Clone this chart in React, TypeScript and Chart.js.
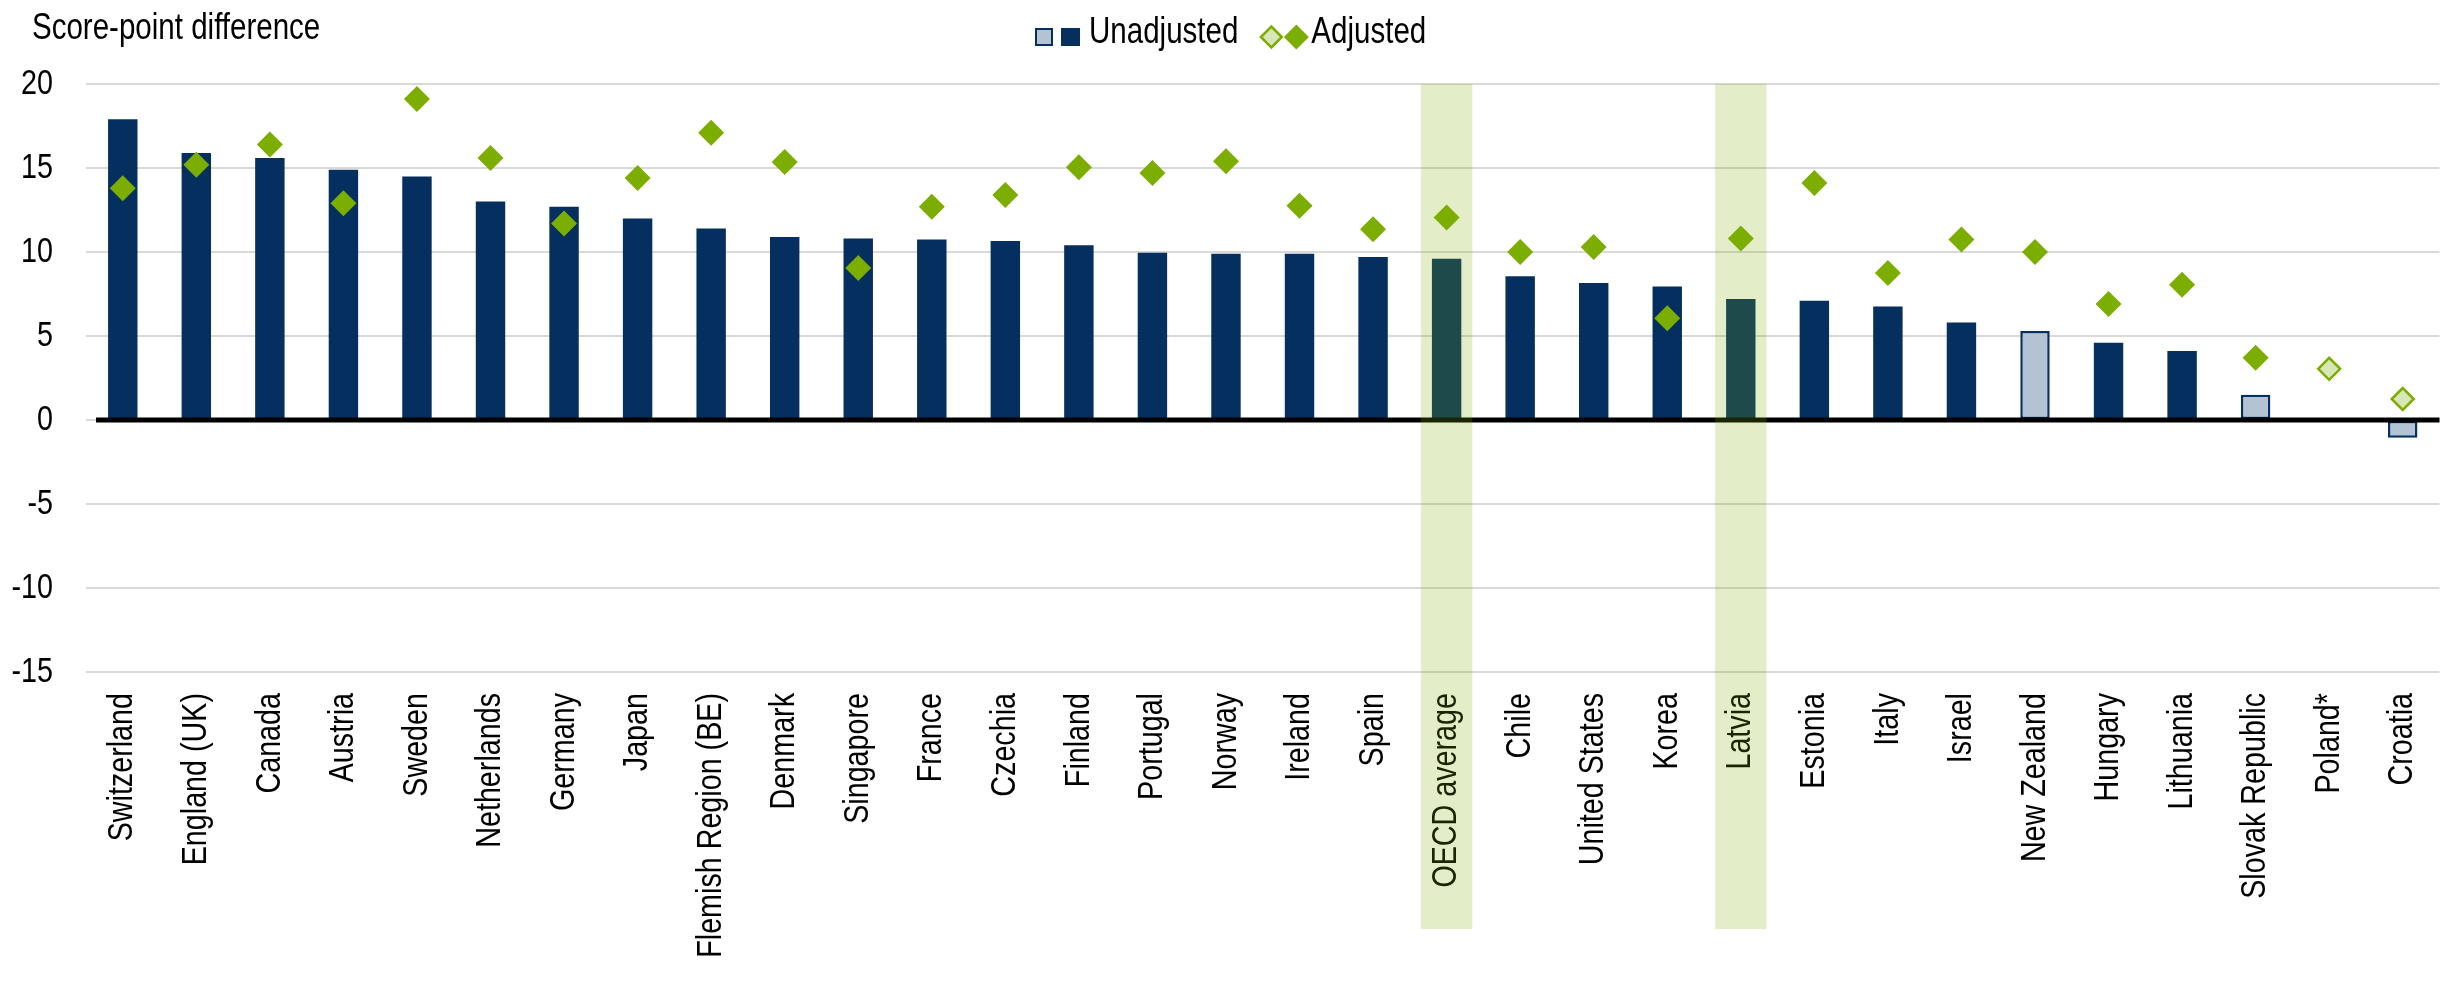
import React, { useEffect, useRef } from 'react';
import { Chart, registerables } from 'chart.js';

Chart.register(...registerables);

const categories = [
  'Switzerland', 'England (UK)', 'Canada', 'Austria', 'Sweden', 'Netherlands', 'Germany', 'Japan',
  'Flemish Region (BE)', 'Denmark', 'Singapore', 'France', 'Czechia', 'Finland', 'Portugal', 'Norway',
  'Ireland', 'Spain', 'OECD average', 'Chile', 'United States', 'Korea', 'Latvia', 'Estonia', 'Italy',
  'Israel', 'New Zealand', 'Hungary', 'Lithuania', 'Slovak Republic', 'Poland*', 'Croatia',
];

const unadjusted = [
  17.9, 15.9, 15.6, 14.9, 14.5, 13.0, 12.7, 12.0,
  11.4, 10.9, 10.8, 10.75, 10.65, 10.4, 9.95, 9.9,
  9.9, 9.7, 9.6, 8.55, 8.15, 7.95, 7.2, 7.1, 6.75,
  5.8, 5.3, 4.6, 4.1, 1.5, null, -1.05,
];

const adjusted = [
  13.8, 15.2, 16.4, 12.9, 19.1, 15.6, 11.7, 14.4,
  17.1, 15.35, 9.05, 12.7, 13.4, 15.05, 14.7, 15.4,
  12.75, 11.35, 12.05, 10.0, 10.3, 6.05, 10.8, 14.1, 8.75,
  10.75, 10.0, 6.9, 8.05, 3.7, 3.05, 1.25,
];

const unadjustedSignificant = [
  true, true, true, true, true, true, true, true,
  true, true, true, true, true, true, true, true,
  true, true, true, true, true, true, true, true, true,
  true, false, true, true, false, false, false,
];

const adjustedSignificant = [
  true, true, true, true, true, true, true, true,
  true, true, true, true, true, true, true, true,
  true, true, true, true, true, true, true, true, true,
  true, true, true, true, true, false, false,
];

const highlighted = ['OECD average', 'Latvia'];
const yMin = -15;
const yMax = 20;
const yStep = 5;
const yTitle = 'Score-point difference';
const legendLabels = ['Unadjusted', 'Adjusted'];

const NAVY = '#042f5f';
const NAVY_LIGHT = '#b4c3d4';
const GREEN = '#7bae00';
const GREEN_LIGHT = '#d8e6b8';
const BAND = 'rgba(122,176,0,0.21)';
const FONT = "'Liberation Sans Narrow', 'Arial Narrow', 'Liberation Sans', Arial, sans-serif";
const NARROW = 0.82;

const W = 2453;
const H = 981;
const PLOT_RIGHT = W - 1;

function diamond(ctx: CanvasRenderingContext2D, cx: number, cy: number, r: number) {
  ctx.beginPath();
  ctx.moveTo(cx, cy - r);
  ctx.lineTo(cx + r, cy);
  ctx.lineTo(cx, cy + r);
  ctx.lineTo(cx - r, cy);
  ctx.closePath();
}

const decorPlugin = {
  id: 'decor',
  afterDatasetsDraw(chart: any) {
    const { ctx, chartArea, scales } = chart;
    const y0 = scales.y.getPixelForValue(0);
    ctx.save();
    ctx.strokeStyle = '#000';
    ctx.lineWidth = 5;
    ctx.beginPath();
    ctx.moveTo(chartArea.left + 10, y0);
    ctx.lineTo(chartArea.right, y0);
    ctx.stroke();
    ctx.restore();
  },
  afterDraw(chart: any) {
    const { ctx, chartArea, scales } = chart;
    const xs = scales.x;
    const step = xs.getPixelForValue(1) - xs.getPixelForValue(0);
    const bw = step * 0.7;
    ctx.save();
    ctx.fillStyle = BAND;
    highlighted.forEach((name) => {
      const i = categories.indexOf(name);
      const cx = xs.getPixelForValue(i);
      ctx.fillRect(cx - bw / 2, chartArea.top, bw, chart.height - 52 - chartArea.top);
    });

    // title
    ctx.fillStyle = '#000';
    ctx.font = `36px ${FONT}`;
    ctx.textBaseline = 'alphabetic';
    ctx.textAlign = 'left';
    ctx.fillText(yTitle, 32, 39);

    // legend
    let x = 1035;
    const top = 28;
    const sz = 18;
    ctx.fillStyle = NAVY_LIGHT;
    ctx.fillRect(x, top, sz, sz);
    ctx.strokeStyle = NAVY;
    ctx.lineWidth = 2;
    ctx.strokeRect(x + 1, top + 1, sz - 2, sz - 2);
    x += sz + 8;
    ctx.fillStyle = NAVY;
    ctx.fillRect(x, top, sz + 1, sz);
    x += sz + 10;
    ctx.fillStyle = '#000';
    ctx.font = `36px ${FONT}`;
    ctx.fillText(legendLabels[0], x, 43);
    x += ctx.measureText(legendLabels[0]).width * NARROW + 22;
    const cy = top + sz / 2;
    diamond(ctx, x + 11, cy, 10.5);
    ctx.fillStyle = GREEN_LIGHT;
    ctx.fill();
    ctx.strokeStyle = GREEN;
    ctx.lineWidth = 2.5;
    ctx.stroke();
    diamond(ctx, x + 36, cy, 12.5);
    ctx.fillStyle = GREEN;
    ctx.fill();
    x += 51;
    ctx.fillStyle = '#000';
    ctx.fillText(legendLabels[1], x, 43);
    ctx.restore();
  },
};

export default function App() {
  const ref = useRef<HTMLCanvasElement | null>(null);

  useEffect(() => {
    if (!ref.current) return;
    const c2d = ref.current.getContext('2d') as any;
    if (c2d && !c2d.__narrow) {
      const orig = c2d.fillText.bind(c2d);
      c2d.fillText = (text: string, x: number, y: number, maxWidth?: number) => {
        c2d.save();
        c2d.translate(x, y);
        c2d.scale(NARROW, 1);
        if (maxWidth === undefined) orig(text, 0, 0);
        else orig(text, 0, 0, maxWidth / NARROW);
        c2d.restore();
      };
      c2d.__narrow = true;
    }
    const chart = new Chart(ref.current, {
      type: 'bar',
      data: {
        labels: categories,
        datasets: [
          {
            type: 'line',
            label: legendLabels[1],
            data: adjusted,
            showLine: false,
            pointStyle: 'rectRot',
            pointRadius: adjustedSignificant.map((s) => (s ? 13 : 11)),
            pointBackgroundColor: adjustedSignificant.map((s) => (s ? GREEN : GREEN_LIGHT)),
            pointBorderColor: GREEN,
            pointBorderWidth: adjustedSignificant.map((s) => (s ? 0 : 2.5)),
            order: 0,
          } as any,
          {
            type: 'bar',
            label: legendLabels[0],
            data: unadjusted,
            backgroundColor: unadjustedSignificant.map((s) => (s ? NAVY : NAVY_LIGHT)),
            borderColor: NAVY,
            borderWidth: unadjustedSignificant.map((s) => (s ? 0 : 2.5)),
            borderSkipped: false,
            categoryPercentage: 1,
            barPercentage: 0.4,
            order: 1,
          } as any,
        ],
      },
      options: {
        responsive: false,
        animation: false,
        devicePixelRatio: 1,
        layout: { padding: { top: 84, right: 1, left: 0, bottom: 0 } },
        plugins: {
          legend: { display: false },
          tooltip: { enabled: false },
          title: { display: false },
        },
        scales: {
          x: {
            grid: { display: false },
            border: { display: false },
            ticks: {
              autoSkip: false,
              minRotation: 90,
              maxRotation: 90,
              padding: 13,
              color: '#000',
              font: { family: FONT, size: 35 },
            },
            afterFit(scale: any) {
              scale.height = 309;
              scale.paddingLeft = 0;
              scale.paddingRight = 0;
            },
          },
          y: {
            min: yMin,
            max: yMax,
            grid: { color: '#d9d9d9', lineWidth: 2, drawTicks: false },
            border: { display: false },
            ticks: {
              stepSize: yStep,
              padding: 33,
              color: '#000',
              font: { family: FONT, size: 35 },
            },
            afterFit(scale: any) {
              scale.width = 86;
            },
          },
        },
      },
      plugins: [decorPlugin],
    } as any);
    const diff = PLOT_RIGHT - chart.chartArea.right;
    if (Math.abs(diff) > 0.5) {
      (chart.options as any).layout.padding.right = 1 - diff;
      chart.update();
    }
    return () => chart.destroy();
  }, []);

  return (
    <div style={{ position: 'absolute', left: 0, top: 0, width: W, height: H, background: '#fff' }}>
      <canvas ref={ref} width={W} height={H} style={{ width: W, height: H, display: 'block' }} />
    </div>
  );
}
